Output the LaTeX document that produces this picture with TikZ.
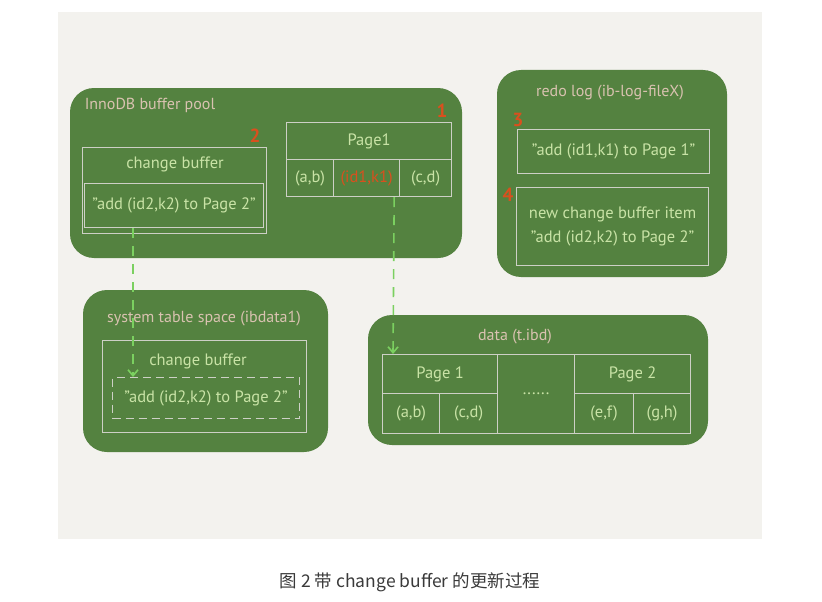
\documentclass[tikz,border=0pt]{standalone}
\usepackage{fontspec}
\setmainfont{PT Sans}
\newfontfamily\cjkfont{Noto Sans CJK SC}
\usetikzlibrary{arrows.meta}
\definecolor{paper}{HTML}{F3F2EE}
\definecolor{board}{HTML}{548240}
\definecolor{chalk}{HTML}{C9E3A6}
\definecolor{title}{HTML}{D9C2B0}
\definecolor{mark}{HTML}{D9501E}
\definecolor{frame}{HTML}{CDD0C6}
\definecolor{flow}{HTML}{7BD060}
\definecolor{caption}{HTML}{3A3A3A}

\begin{document}
\begin{tikzpicture}[x=1pt, y=-1pt,
        block/.style={fill=board, rounded corners=24pt},
        hand/.style={text=chalk, font=\fontsize{16.5}{20}\selectfont},
        head/.style={text=title, font=\fontsize{16}{19}\selectfont},
        num/.style={text=mark, font=\bfseries\fontsize{19}{20}\selectfont},
        cell/.style={hand, draw=frame, line width=1.2pt, inner sep=0pt, anchor=north west},
        flowline/.style={flow, line width=1.6pt, dash pattern=on 10pt off 8pt, -{Straight Barb[length=6pt, width=10pt]}}]
        \useasboundingbox (0,0) rectangle (822,602);
        \fill[white] (0,0) rectangle (822,602);
        \fill[paper] (58,12) rectangle (762,539);

        % InnoDB buffer pool
        \fill[block] (70,88) rectangle (462,258);
        \node[head] (pooltitle) at (150,105) {InnoDB buffer pool};
        \node[num] (numtwo) at (255,136) {2};
        \node[cell, minimum width=184pt, minimum height=86pt] (cbpool) at (82,147) {};
        \node[hand] (cbpooltext) at (175,164) {change buffer};
        \node[cell, minimum width=179pt, minimum height=44pt] (cbmem) at (84,183) {"add (id2,k2) to Page 2"};
        \node[num] (numone) at (442,111) {1};
        \node[cell, minimum width=165pt, minimum height=37pt] (pgmem) at (286,122) {Page1};
        \node[cell, minimum width=47pt, minimum height=37pt] (memab) at (286,159) {(a,b)};
        \node[cell, minimum width=66pt, minimum height=37pt, text=mark] (memid) at (333,159) {(id1,k1)};
        \node[cell, minimum width=52pt, minimum height=37pt] (memcd) at (399,159) {(c,d)};

        % redo log
        \fill[block] (497,70) rectangle (727,277);
        \node[head] (redotitle) at (610,93) {redo log (ib-log-fileX)};
        \node[num] (numthree) at (518,120) {3};
        \node[cell, minimum width=192pt, minimum height=44pt] (redoone) at (517,129) {"add (id1,k1) to Page 1"};
        \node[num] (numfour) at (508,195) {4};
        \node[cell, minimum width=192pt, minimum height=78pt, align=center] (redotwo) at (516,187) {new change buffer item\\[4pt]"add (id2,k2) to Page 2"};

        % system table space
        \fill[block] (83,290) rectangle (328,452);
        \node[head] (systitle) at (204,319) {system table space (ibdata1)};
        \node[cell, minimum width=204pt, minimum height=92pt] (cbsys) at (102,340) {};
        \node[hand] (cbsystext) at (198,361) {change buffer};
        \node[cell, minimum width=187pt, minimum height=41pt, dash pattern=on 8pt off 5pt] (cbdisk) at (112,377) {"add (id2,k2) to Page 2"};

        % data file
        \fill[block] (368,315) rectangle (708,445);
        \node[head] (datatitle) at (515,337) {data (t.ibd)};
        \node[cell, minimum width=115pt, minimum height=39pt] (pgdone) at (382,354) {Page 1};
        \node[cell, minimum width=57pt, minimum height=40pt] (dataab) at (382,393) {(a,b)};
        \node[cell, minimum width=58pt, minimum height=40pt] (datacd) at (439,393) {(c,d)};
        \node[cell, minimum width=77pt, minimum height=79pt] (datamid) at (497,354) {......};
        \node[cell, minimum width=116pt, minimum height=39pt] (pgdtwo) at (574,354) {Page 2};
        \node[cell, minimum width=59pt, minimum height=40pt] (dataef) at (574,393) {(e,f)};
        \node[cell, minimum width=57pt, minimum height=40pt] (datagh) at (633,393) {(g,h)};

        \draw[flowline] ([xshift=49pt]cbmem.south west) -- ([xshift=21pt]cbdisk.north west);
        \draw[flowline] ([xshift=-6pt]memid.south east) -- ([xshift=11pt]pgdone.north west);

        \node[text=caption, font=\cjkfont\fontsize{17.5}{20}\selectfont] (figcaption) at (410,582) {图 2 带 change buffer 的更新过程};
    \end{tikzpicture}
\end{document}
